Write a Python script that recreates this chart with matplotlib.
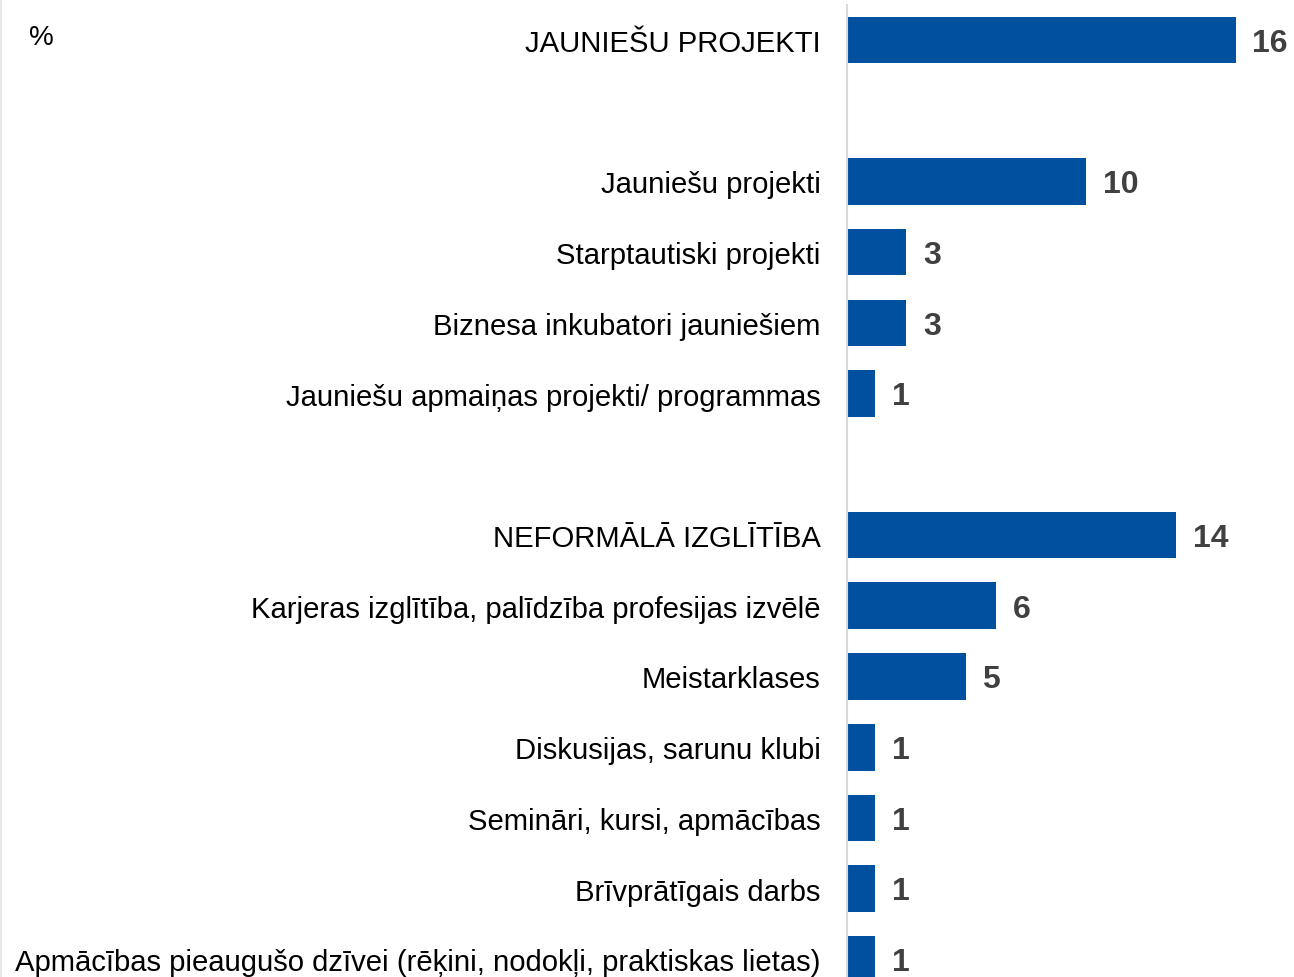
import numpy as np
import matplotlib.pyplot as plt

plt.rcParams['font.family'] = ['Liberation Sans', 'DejaVu Sans']

# rows, '' marks an empty spacer row
categories = [
    'JAUNIEŠU PROJEKTI',
    '',
    'Jauniešu projekti',
    'Starptautiski projekti',
    'Biznesa inkubatori jauniešiem',
    'Jauniešu apmaiņas projekti/ programmas',
    '',
    'NEFORMĀLĀ IZGLĪTĪBA',
    'Karjeras izglītība, palīdzība profesijas izvēlē',
    'Meistarklases',
    'Diskusijas, sarunu klubi',
    'Semināri, kursi, apmācības',
    'Brīvprātīgais darbs',
    'Apmācības pieaugušo dzīvei (rēķini, nodokļi, praktiskas lietas)',
]
values = [16.4, None, 10.1, 2.5, 2.5, 1.2, None, 13.9, 6.3, 5.0, 1.2, 1.2, 1.2, 1.2]

bar_color = '#0050a0'

fig = plt.figure(figsize=(12.94, 9.78), dpi=100)
ax = fig.add_axes([847 / 1294, 0, 1 - 847 / 1294, 1])

ypos = np.arange(len(categories))
for y, v in zip(ypos, values):
    if v is None:
        continue
    ax.barh(y, v, height=0.66, color=bar_color)
    ax.text(v + 0.7, y + 0.04, str(int(v + 0.5)), va='center', ha='left',
            fontsize=23, fontweight='bold', color='#404040')

ax.set_ylim(13.25, -0.58)
ax.set_xlim(0, 18.86)
ax.set_yticks(ypos)
ax.set_yticklabels(categories, fontsize=21.1, color='#000000')
ax.tick_params(axis='y', length=0, pad=19)
ax.set_xticks([])
for s in ['top', 'right', 'bottom']:
    ax.spines[s].set_visible(False)
ax.spines['left'].set_color('#d9d9d9')
ax.spines['left'].set_linewidth(1.5)
ax.spines['left'].set_bounds(13.25, -0.5)

fig.text(29 / 1294, 1 - 38 / 978, '%', fontsize=20, va='center', ha='left')
fig.add_artist(plt.Line2D([0.0008, 0.0008], [0, 1], color='#e6e6e6', lw=1.5))

fig.savefig('out.png', dpi=100)
